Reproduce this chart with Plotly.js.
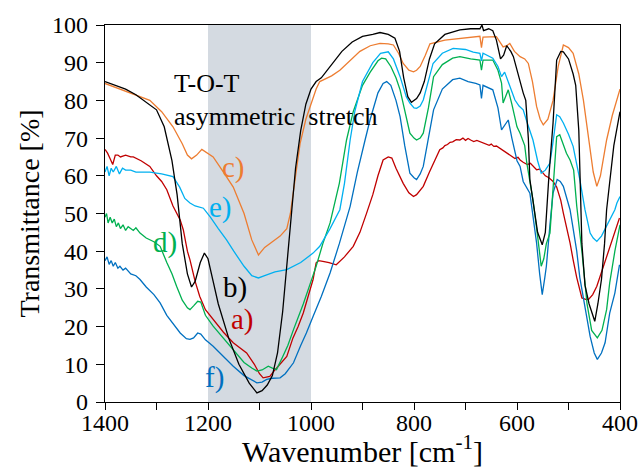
<!DOCTYPE html>
<html>
<head>
<meta charset="utf-8">
<script src="https://cdn.plot.ly/plotly-3.0.1.min.js"></script>
<style>html,body{margin:0;padding:0;background:#fff;}#chart{width:640px;height:468px;}</style>
</head>
<body>
<div id="chart"></div>
<script>
// ---- Data ----
const labels = ["a)", "b)", "c)", "d)", "e)", "f)"];

// b) black
const wnB = [1400,1380,1360,1340,1320,1300,1285,1270,1260,1250,1240,1232,1225,1215,1207,1200,1190,1180,1160,1140,1120,1105,1095,1085,1075,1065,1055,1045,1037,1030,1020,1010,1000,990,980,960,940,920,900,880,866,850,837,828,820,812,805,795,788,780,770,760,740,711,690,672,668,665,655,647,640,632,626,620,612,607,600,594,588,583,578,575,569,560,551,545,538,530,523,515,510,500,491,486,480,474,468,460,449,443,436,430,426,420,412,400];
const tB  = [85,84,83,81.5,79.5,77.5,73,64,55,42,34,30.5,32,37,39.5,38,32,26,17,10,5,2.4,3,4.5,7,13,24,40,52,62,72,79,83,85,86,89.5,93,95.5,97,97.5,98,97.5,96.5,93,86,81,79.5,80.5,82,85,91,95,97.5,98.7,99,99,100,98.5,99,98.5,96,91,92,94.5,93,91.6,88,84.6,82,80,70,59,53.6,45,41.7,45,60,74,90.7,93,92.9,91,87,84,72,42,31,26,21.4,26,32.5,42,51,59,68,77];

// c) orange
const wnC = [1400,1380,1360,1340,1313,1290,1268,1250,1240,1232,1222,1212,1200,1190,1170,1151,1130,1115,1102,1090,1075,1060,1047,1040,1030,1021,1010,1002,990,983,960,944,920,905,885,866,850,840,830,821,810,801,795,788,778,769,740,711,690,672,669,666,640,627,620,614,605,594,585,578,570,562,555,549,540,530,520,510,500,491,480,471,460,452,445,438,426,415,400];
const tC  = [84.5,83.5,82.5,81.5,80,77,73,68.5,65.5,64.5,65.5,67,66,65,61,57,50,43,39,41,42.5,44,46,50,60,68.7,75,78.4,83,85,86.5,88,91,93,94.5,95.1,95,94.7,92.5,89.8,88,87.6,88,89,92,95,96,96.5,96.8,97,94,96.8,96.9,94.2,94.5,95.1,93,91.6,91,89.8,85,78.4,75,73.5,75,80,89,94.7,94,92.5,87,80,69,61,57.2,60,69.5,76,83];

// e) light blue
const wnE = [1400,1396,1392,1388,1384,1378,1372,1366,1360,1350,1340,1330,1313,1290,1268,1255,1245,1235,1225,1209,1195,1180,1164,1150,1130,1115,1102,1090,1070,1047,1020,996,983,963,944,935,924,915,900,880,865,850,840,827,815,808,800,795,788,782,772,763,745,724,700,685,672,669,666,647,637,630,624,620,612,604,596,588,580,569,560,553,545,536,530,523,517,510,500,491,484,478,468,458,452,445,436,426,418,410,406,400];
const tE  = [61,62.5,60,62,61,62.5,60.5,62,61.5,61.5,61,61,61,60.5,59.8,57,54,52.8,52,51.4,49,46,43,40,36,33.5,32.9,33.5,34.5,35.1,37,39.5,41.3,46,51,58,69.5,77,85,90,92.5,92.9,91,86.3,81,79.3,78,77.9,78.5,80.1,85,89.8,92.5,93.8,93.5,92.8,92.5,90.5,92.5,91.2,89,86.3,87.5,85.9,83,80.1,78.5,77.5,74,69.5,64,60.7,61.5,63.4,69,76.2,75.7,74,71,67.8,63,59,51,44.8,43.5,42.6,44,46.6,48.5,51,52.8,54.5];

// d) green
const wnD = [1400,1397,1394,1390,1386,1382,1378,1374,1370,1365,1360,1355,1345,1340,1332,1320,1305,1293,1280,1270,1261,1250,1240,1235,1228,1220,1214,1205,1190,1170,1151,1130,1115,1105,1095,1083,1075,1067,1055,1045,1034,1015,1000,990,977,963,945,931,918,900,885,870,863,855,845,835,827,818,808,800,795,788,782,772,762,745,725,711,690,672,669,666,647,637,630,627,622,617,610,600,594,585,581,575,569,560,553,548,543,536,530,523,517,510,504,497,490,484,474,464,455,444,435,426,420,410,400];
const tD  = [49,50,47.5,49,47.5,48.5,46.5,47.5,46,47,45.5,46.5,45.5,46.2,44.8,43.5,42.5,41.3,37,34,30.7,27,25,24.5,25.5,26.7,26.5,23,20.1,17,13.9,10.5,9,8.2,8.5,9.5,9,8.6,12,15,19.2,26,32,36,42,47.5,58,69.5,77,84,87.5,90.5,91.2,91,89,86,82.8,77,71.3,70,69.5,70,71.3,78,86.3,89.5,91.2,91.6,91,90.7,88,90.7,90.7,88,84.6,79.3,81,82.8,79,73,71.3,68,63.4,58,53.6,44,36,38,42,44.8,58,70.4,70.9,68.5,66,64.2,61.5,52,40,26,19,17,19,24.5,31.6,40,47];

// a) red
const wnA = [1400,1395,1390,1385,1380,1375,1370,1360,1350,1345,1330,1313,1300,1290,1280,1268,1254,1248,1240,1235,1225,1216,1205,1190,1170,1151,1140,1125,1110,1100,1093,1080,1070,1060,1047,1035,1025,1015,1005,996,990,985,977,965,951,935,918,905,892,880,870,860,850,843,835,828,821,810,801,795,782,770,760,750,744,740,735,730,725,718,711,705,700,695,690,684,678,672,666,660,654,650,645,640,633,627,620,615,610,604,598,594,588,580,574,568,562,556,550,545,538,530,523,515,510,504,497,491,484,474,467,461,453,445,432,420,410,401];
const tA  = [67,66,64.5,63,65.5,65.5,65,65.5,65,65,64,62.5,60,58.5,56.3,52,48.3,45.7,40,37.7,32,28,24.5,21.9,18.5,15.7,14.5,13,10,7.5,6.4,6.8,8.5,10,12.1,17,20,23.6,28,32.5,36.9,37.5,37.3,37,36.4,38.5,41.3,45,50.1,55,60,64.2,65,64.7,62,60,58,55.5,54.5,55,57.2,61,64,66.9,67.4,68,68.3,68.9,69,69.6,69.5,70,69.4,69.9,69.5,69.1,69.4,69.1,68.6,68.5,68.1,68.4,67.8,67.9,67.3,66.7,66,65.7,65.3,64.6,64.9,64.2,63.6,63,63.3,62.4,61.6,61.8,60.7,60,59.5,58.5,57,53.5,50.1,46.5,42.2,37.7,33,27.6,27.2,27.2,28.5,30.7,36,41.3,45,48.8];

// f) blue
const wnF = [1400,1396,1392,1388,1384,1380,1375,1371,1365,1360,1350,1340,1332,1320,1305,1293,1280,1267,1254,1242,1235,1228,1220,1214,1205,1190,1170,1151,1130,1115,1105,1095,1086,1075,1060,1050,1034,1020,1009,996,980,963,945,924,910,895,885,870,860,853,845,835,827,818,808,800,795,788,782,772,762,745,725,711,695,680,672,669,666,647,637,630,624,617,610,600,594,588,575,568,562,556,551,546,543,536,530,522,516,510,503,497,491,484,478,471,464,458,450,444,436,429,420,410,401];
const tF  = [37.5,38.5,36.5,37.5,36,37,35.5,36,35,35.5,34,33.5,32.5,30.5,28.5,26.3,23,20.5,18.3,16.8,16.6,17,18.3,18,16.5,14.8,12,9.5,7,5.8,5.1,5.3,6,6.3,6.4,7.5,10.4,15,18.3,22.7,28,34.2,42,51.9,61,69.5,75,82,84.5,85,84,80,75.7,68,60.7,59.5,59,60.5,62.5,70,77.5,83,85.5,85.9,85,84.5,84.1,80.5,84,82.8,78,72.2,73.5,74.8,70,64,62.5,58.5,55.4,49,42.2,34,28.5,33,36,47,55.4,59,58.5,57.2,54,51,46,40,33,27.2,21.5,17.4,13,11.3,13,15.7,23.6,28.9,36.4];

// tick values and band
const xTickVals = [1400, 1200, 1000, 800, 600, 400];
const yTickVals = [0, 10, 20, 30, 40, 50, 60, 70, 80, 90, 100];
const bandFrom = 1200, bandTo = 1000;

// ---- Styles ----
const serif = "Liberation Serif, Times New Roman, serif";
const cBlack = "#000000", cOrange = "#ED7D31", cLightBlue = "#00B0F0",
      cGreen = "#00B050", cRed = "#C00000", cBlue = "#0070C0";

function tr(x, y, color) {
  return {x: x, y: y, type: "scatter", mode: "lines",
          line: {color: color, width: 1.3}, hoverinfo: "skip", showlegend: false};
}

const data = [
  tr(wnA, tA, cRed),
  tr(wnF, tF, cBlue),
  tr(wnD, tD, cGreen),
  tr(wnE, tE, cLightBlue),
  tr(wnC, tC, cOrange),
  tr(wnB, tB, cBlack)
];

function ann(text, x, y, color, anchor, size) {
  return {text: text, x: x, y: y, xref: "x", yref: "y", showarrow: false,
          xanchor: anchor || "center", yanchor: "middle",
          font: {family: serif, size: size || 29, color: color}};
}

const layout = {
  width: 640, height: 468,
  margin: {l: 105, r: 20, t: 25, b: 66},
  paper_bgcolor: "#fff", plot_bgcolor: "#fff",
  showlegend: false,
  xaxis: {
    range: [1400, 400], autorange: false,
    tickvals: xTickVals, ticktext: xTickVals.map(String),
    ticks: "outside", ticklen: 7, tickwidth: 1, tickcolor: "#000",
    ticklabelstandoff: -8,
    minor: {dtick: 100, ticks: "outside", ticklen: 7, tickcolor: "#000", showgrid: false},
    showgrid: false, zeroline: false,
    showline: true, linecolor: "#000", linewidth: 1.3, mirror: true,
    tickfont: {family: serif, size: 24, color: "#000"},
    title: {text: "Wavenumber [cm<sup>-1</sup>]", font: {family: serif, size: 30, color: "#000"}, standoff: 5},
    automargin: false
  },
  yaxis: {
    range: [0, 100], autorange: false,
    tickvals: yTickVals,
    ticks: "outside", ticklen: 8, tickwidth: 1, tickcolor: "#000",
    ticklabelstandoff: 3,
    showgrid: false, zeroline: false,
    showline: true, linecolor: "#000", linewidth: 1.3, mirror: true,
    tickfont: {family: serif, size: 24, color: "#000"},
    title: {text: "Transmittance [%]", font: {family: serif, size: 28, color: "#000"}, standoff: 4},
    automargin: false
  },
  shapes: [{type: "rect", xref: "x", yref: "y", x0: bandFrom, x1: bandTo, y0: 0, y1: 100,
            fillcolor: "rgb(212,218,225)", line: {width: 0}, layer: "below"}],
  annotations: [
    ann("T-O-T", 1270, 84.5, "#000", "left", 26),
    ann("asymmetric&nbsp;&nbsp;stretch", 1270, 75.8, "#000", "left", 26),
    ann(labels[2], 1150, 62.2, cOrange),
    ann(labels[4], 1176, 51.5, cLightBlue),
    ann(labels[3], 1283, 42.3, cGreen),
    ann(labels[1], 1147, 30.3, cBlack),
    ann(labels[0], 1133, 21.9, cRed),
    ann(labels[5], 1188, 6.5, cBlue)
  ]
};

Plotly.newPlot("chart", data, layout, {displayModeBar: false, staticPlot: true});
</script>
</body>
</html>
